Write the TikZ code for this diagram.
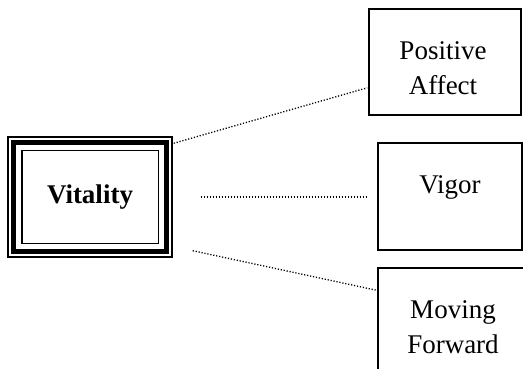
\documentclass[tikz,border=0pt]{standalone}
\usepackage{fontspec}
\setmainfont{Liberation Serif}
\usetikzlibrary{calc}

\begin{document}
\begin{tikzpicture}[x=1pt, y=-1pt,
    frame/.style={rectangle, draw, inner sep=0pt, line width=1.4pt,
                  font=\bfseries\fontsize{27}{34.5}\selectfont},
    facet/.style={rectangle, draw, inner sep=0pt, line width=1.6pt},
    facettext/.style={anchor=north, inner sep=0pt, align=center,
                      font=\fontsize{27}{34.5}\selectfont},
    link/.style={line width=1.3pt, dash pattern=on 1.2pt off 1.8pt},
  ]
  \useasboundingbox (0,0) rectangle (523,369);
  \clip (0,0) rectangle (523,369);

  % core construct with triple frame
  \node[frame, minimum width=164pt, minimum height=120pt] (vit) at (90,197) {Vitality};
  \draw[line width=4.8pt] ($(vit.north west)+(6.5,6.5)$) rectangle ($(vit.south east)+(-6.5,-6.5)$);
  \draw[line width=1.4pt] ($(vit.north west)+(14.5,14.5)$) rectangle ($(vit.south east)+(-14.5,-14.5)$);

  % facets
  \node[facet, minimum width=152pt, minimum height=106pt] (pa) at (445,62) {};
  \node[facettext] (patext) at ($(pa.north)+(-2,33.5)$) {Positive\\Affect};
  \node[facet, minimum width=144pt, minimum height=107pt] (vig) at (450,196.5) {};
  \node[facettext] (vigtext) at ($(vig.north)+(0,33.5)$) {Vigor};
  \node[facet, minimum width=150pt, minimum height=107pt] (mf) at (453,321.5) {};
  \node[facettext] (mftext) at ($(mf.north)+(0,33.5)$) {Moving\\Forward};

  % links
  \draw[link] ($(vit.north east)+(1,7)$) -- ($(pa.south west)+(-1,-28)$);
  \draw[link, shorten <=28pt, shorten >=11pt] (vit.east) -- (vit.east -| vig.west);
  \draw[link] ($(vit.south east)+(20,-7)$) -- ($(mf.north west)+(-1,23)$);
\end{tikzpicture}
\end{document}
